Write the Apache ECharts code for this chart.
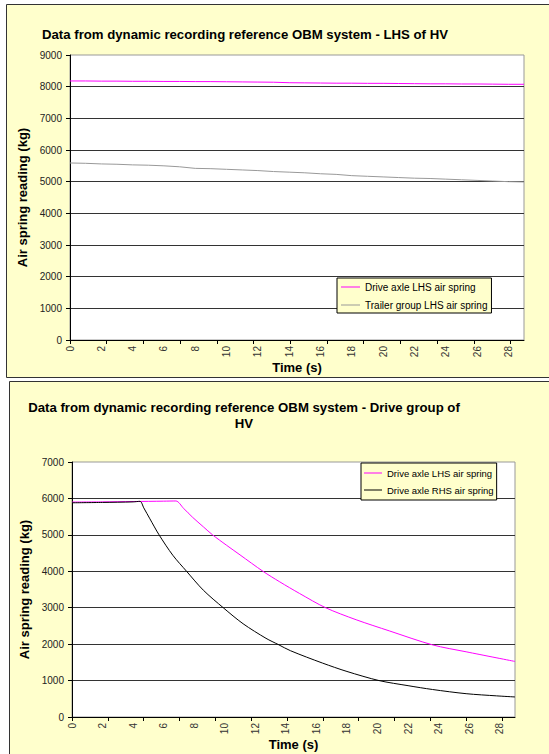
<!DOCTYPE html>
<html>
<head>
<meta charset="utf-8">
<script src="https://cdn.jsdelivr.net/npm/echarts@6/dist/echarts.min.js"></script>
<style>
html,body{margin:0;padding:0;background:#fff;}
#c{width:549px;height:754px;}
</style>
</head>
<body>
<div id="c"></div>
<script>
// ---- Top chart: LHS of HV ----
const topTitle = 'Data from dynamic recording reference OBM system - LHS of HV';
const topTime = [0,1,2,3,4,5,6,7,8,9,10,11,12,13,14,15,16,17,18,19,20,21,22,23,24,25,26,27,28,29];
const topDriveLhs = [8180,8180,8175,8175,8170,8170,8165,8165,8160,8160,8155,8150,8145,8140,8125,8120,8115,8110,8110,8105,8105,8100,8095,8090,8090,8085,8085,8080,8075,8075];
const topTrailerLhs = [5590,5580,5560,5550,5530,5520,5500,5470,5420,5410,5390,5370,5350,5320,5300,5280,5250,5230,5190,5170,5150,5130,5110,5100,5080,5060,5040,5020,5000,4990];

// ---- Bottom chart: Drive group of HV ----
const bottomTitle = 'Data from dynamic recording reference OBM system - Drive group of\nHV';
const lhsTime = [0,2,4,6,6.8,7.3,7.9,8.6,9.2,10.1,11,12.5,13.6,14.9,16.6,18.6,20.8,23.6,25.8,29];
const lhsValues = [5900,5905,5915,5925,5930,5730,5480,5220,5000,4720,4450,4000,3710,3390,3000,2670,2360,1980,1790,1525];
const rhsTime = [0,2,4,4.45,4.7,5.1,5.7,6.6,7.5,8.6,9.9,11.2,12.7,13.5,14.3,16.4,18,20.1,22,23.6,25.8,27.8,29];
const rhsValues = [5880,5890,5905,5920,5740,5440,5000,4440,4000,3480,3000,2560,2160,1990,1820,1480,1250,1000,860,755,640,580,550];

// ---- Axis labels / ticks ----
const seriesNames = ['Drive axle LHS air spring','Trailer group LHS air spring','Drive axle RHS air spring'];
const xLabelValues = [0,2,4,6,8,10,12,14,16,18,20,22,24,26,28];
const xTickMarks = [0,2.345,4.69,7.035,9.38,11.725,14.07,16.415,18.76,21.105,23.45,25.795,28.14];
const xMax = 29;
const yTitle = 'Air spring reading (kg)';
const xTitle = 'Time (s)';

function pairs(xs, ys){ return xs.map((x,i)=>[x, ys[i]]); }

const FONT = 'Liberation Sans, Arial, sans-serif';
const BG = '#FFFFCC';

function xAxisDef(gridIndex){
  return {
    gridIndex, type:'value', min:0, max:xMax,
    name:xTitle, nameLocation:'middle', nameGap:20,
    nameTextStyle:{fontFamily:FONT,fontSize:13,fontWeight:'bold',color:'#000'},
    axisLine:{show:true,lineStyle:{color:'#000',width:1}},
    axisTick:{show:true,inside:false,length:4,lineStyle:{color:'#000'},customValues:xTickMarks},
    axisLabel:{rotate:90,fontFamily:FONT,fontSize:10,color:'#333',margin:6,customValues:xLabelValues},
    splitLine:{show:false}
  };
}
function yAxisDef(gridIndex, max, gap){
  return {
    gridIndex, type:'value', min:0, max:max, interval:1000,
    name:yTitle, nameLocation:'middle', nameGap:gap, nameRotate:90,
    nameTextStyle:{fontFamily:FONT,fontSize:13,fontWeight:'bold',color:'#000'},
    axisLine:{show:true,lineStyle:{color:'#000',width:1}},
    axisTick:{show:true,inside:false,length:4,lineStyle:{color:'#000'}},
    axisLabel:{fontFamily:FONT,fontSize:10,color:'#222',margin:8,formatter:(v)=>String(v)},
    splitLine:{show:true,showMaxLine:false,lineStyle:{color:'#333',width:1}}
  };
}

function legendDef(data, left, top, padding, gap, iw, fs){
  return {
    data, orient:'vertical', left, top, padding, itemGap:gap,
    icon:'rect', itemWidth:iw, itemHeight:1,
    backgroundColor:BG, borderColor:'#000', borderWidth:1, selectedMode:false,
    textStyle:{fontFamily:FONT,fontSize:fs,color:'#000',lineHeight:12}
  };
}

const chart = echarts.init(document.getElementById('c'), null, {renderer:'svg', width:549, height:754});
chart.setOption({
  animation:false,
  backgroundColor:'#fff',
  textStyle:{fontFamily:FONT},
  graphic:[
    {type:'rect', z:-10, shape:{x:6.5,y:4.5,width:580,height:373}, style:{fill:BG, stroke:'#333', lineWidth:1}},
    {type:'rect', z:-10, shape:{x:9.5,y:381.5,width:580,height:400}, style:{fill:BG, stroke:'#333', lineWidth:1}}
  ],
  title:[
    {text:topTitle, left:42, top:26, padding:0,
     textStyle:{fontFamily:FONT,fontSize:13.2,fontWeight:'bold',color:'#000',lineHeight:16}},
    {text:bottomTitle, left:244, top:399, padding:0, textAlign:'center',
     textStyle:{fontFamily:FONT,fontSize:13.2,fontWeight:'bold',color:'#000',lineHeight:16}}
  ],
  grid:[
    {left:70, top:55, right:25, bottom:414, show:true, backgroundColor:'#fff', borderColor:'#999', borderWidth:1},
    {left:72, top:462, right:34, bottom:37, show:true, backgroundColor:'#fff', borderColor:'#999', borderWidth:1}
  ],
  xAxis:[xAxisDef(0), xAxisDef(1)],
  yAxis:[yAxisDef(0, 9000, 39), yAxisDef(1, 7000, 37)],
  legend:[
    legendDef([seriesNames[0], seriesNames[1]], 337, 278, [3,4,2,4], 6, 19, 10),
    legendDef([seriesNames[0], seriesNames[2]], 361, 463, [4,3,4,3], 5, 18, 9.5)
  ],
  series:[
    {name:seriesNames[0], type:'line', xAxisIndex:0, yAxisIndex:0, symbol:'none',
     lineStyle:{color:'#FF00FF',width:1}, itemStyle:{color:'#FF00FF'}, data:pairs(topTime, topDriveLhs)},
    {name:seriesNames[1], type:'line', xAxisIndex:0, yAxisIndex:0, symbol:'none',
     lineStyle:{color:'#999',width:1}, itemStyle:{color:'#999'}, data:pairs(topTime, topTrailerLhs)},
    {name:seriesNames[0], type:'line', xAxisIndex:1, yAxisIndex:1, symbol:'none', smooth:0.3,
     lineStyle:{color:'#FF00FF',width:1}, itemStyle:{color:'#FF00FF'}, data:pairs(lhsTime, lhsValues)},
    {name:seriesNames[2], type:'line', xAxisIndex:1, yAxisIndex:1, symbol:'none', smooth:0.3,
     lineStyle:{color:'#000',width:1}, itemStyle:{color:'#000'}, data:pairs(rhsTime, rhsValues)}
  ]
});
</script>
</body>
</html>
